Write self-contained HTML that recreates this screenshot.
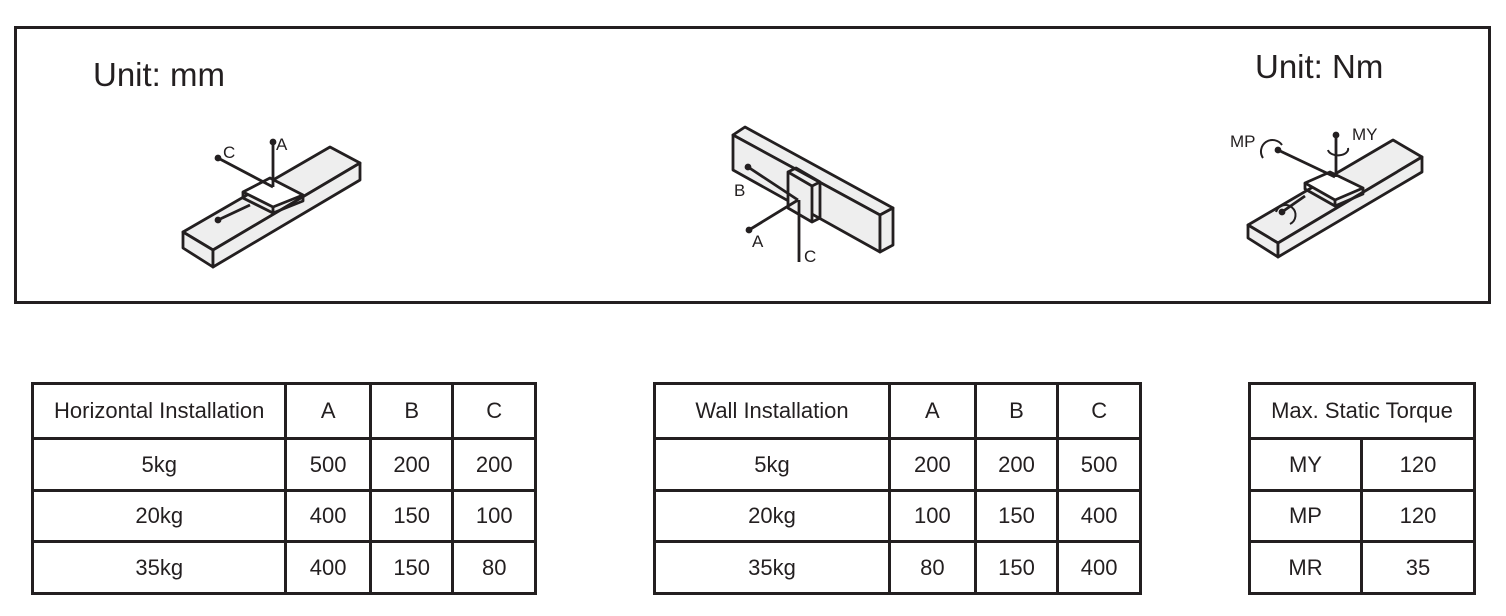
<!DOCTYPE html>
<html><head><style>
body{margin:0;width:1506px;height:616px;background:#fff;position:relative;font-family:"Liberation Sans",sans-serif;color:#231f20;overflow:hidden}
.frame{position:absolute;left:14px;top:26px;width:1471px;height:272px;border:3px solid #231f20}
.u{position:absolute;font-size:33px;line-height:1}
table{position:absolute;border-collapse:collapse;font-size:22px}
td{border:3px solid #231f20;text-align:center;padding:0}
svg{position:absolute;left:0;top:0}
</style></head><body>
<div class="frame"></div>
<div class="u" style="left:93px;top:58px">Unit: mm</div>
<div class="u" style="left:1255px;top:50px">Unit: Nm</div>
<svg width="1506" height="616" fill="none" stroke="#231f20" stroke-width="2.8" stroke-linejoin="round">
<g font-family="Liberation Sans,sans-serif" font-size="17" fill="#231f20" stroke="none">
<text x="223" y="158">C</text><text x="276" y="150">A</text><text x="221" y="234">B</text>
<text x="734" y="196">B</text><text x="752" y="247">A</text><text x="804" y="262">C</text>
<text x="1230" y="147">MP</text><text x="1352" y="140">MY</text><text x="1262" y="236">MR</text>
</g>
<path d="M183,232 L330,147 L360,163 L213,250 Z" fill="#eee"/>
<path d="M183,232 L213,250 L213,267 L183,248 Z" fill="#eee"/>
<path d="M213,250 L360,163 L360,180 L213,267 Z" fill="#eee"/>
<path d="M243,192 L270,178 L303,195 L273,207 Z" fill="#fff"/>
<path d="M243,192 L243,198 L273,213 L303,201 L303,195 M273,207 L273,213"/>
<path d="M273,142 L273,187 M218,158 L273,187 M218,220 L250,205"/>
<circle cx="273" cy="142" r="2" fill="#231f20"/><circle cx="218" cy="158" r="2" fill="#231f20"/><circle cx="218" cy="220" r="2" fill="#231f20"/>
<path d="M733,135 L745,127 L893,208 L880,215 Z" fill="#eee"/>
<path d="M733,135 L880,215 L880,252 L733,170 Z" fill="#eee"/>
<path d="M880,215 L893,208 L893,245 L880,252 Z" fill="#eee"/>
<path d="M788,172 L812,186 L812,222 L788,208 Z" fill="#eee"/>
<path d="M812,186 L820,182 L820,218 L812,222 M788,172 L796,168 L820,182"/>
<path d="M748,167 L798,200 M749,230 L798,200 M799,200 L799,262"/>
<circle cx="748" cy="167" r="2" fill="#231f20"/><circle cx="749" cy="230" r="2" fill="#231f20"/>
<path d="M1248,225 L1393,140 L1422,157 L1278,243 Z" fill="#eee"/>
<path d="M1248,225 L1278,243 L1278,257 L1248,238 Z" fill="#eee"/>
<path d="M1278,243 L1422,157 L1422,172 L1278,257 Z" fill="#eee"/>
<path d="M1305,183 L1330,172 L1363,188 L1335,200 Z" fill="#fff"/>
<path d="M1305,183 L1305,189 L1335,206 L1363,194 L1363,188 M1335,200 L1335,206"/>
<path d="M1278,150 L1335,177 M1336,135 L1336,177 M1282,212 L1305,196"/>
<circle cx="1278" cy="150" r="2" fill="#231f20"/><circle cx="1336" cy="135" r="2" fill="#231f20"/><circle cx="1282" cy="212" r="2" fill="#231f20"/>
<path d="M1263,158 A10,10 0 1,1 1282,145" stroke-width="2"/>
<path d="M1328,150 A8,5 0 1,0 1348,148" stroke-width="2"/>
<path d="M1276,212 A10,10 0 1,1 1290,224" stroke-width="2"/>
</svg>
<table style="left:31px;top:382px;width:506px">
<colgroup><col style="width:255px"><col style="width:85px"><col style="width:83px"><col style="width:83px"></colgroup>
<tr style="height:55px"><td>Horizontal Installation</td><td>A</td><td>B</td><td>C</td></tr>
<tr style="height:52px"><td>5kg</td><td>500</td><td>200</td><td>200</td></tr>
<tr style="height:51px"><td>20kg</td><td>400</td><td>150</td><td>100</td></tr>
<tr style="height:52px"><td>35kg</td><td>400</td><td>150</td><td>80</td></tr>
</table>
<table style="left:653px;top:382px;width:489px">
<colgroup><col style="width:236px"><col style="width:86px"><col style="width:83px"><col style="width:83px"></colgroup>
<tr style="height:55px"><td>Wall Installation</td><td>A</td><td>B</td><td>C</td></tr>
<tr style="height:52px"><td>5kg</td><td>200</td><td>200</td><td>500</td></tr>
<tr style="height:51px"><td>20kg</td><td>100</td><td>150</td><td>400</td></tr>
<tr style="height:52px"><td>35kg</td><td>80</td><td>150</td><td>400</td></tr>
</table>
<table style="left:1248px;top:382px;width:228px">
<colgroup><col style="width:113px"><col style="width:114px"></colgroup>
<tr style="height:55px"><td colspan="2">Max. Static Torque</td></tr>
<tr style="height:52px"><td>MY</td><td>120</td></tr>
<tr style="height:51px"><td>MP</td><td>120</td></tr>
<tr style="height:52px"><td>MR</td><td>35</td></tr>
</table>
</body></html>
